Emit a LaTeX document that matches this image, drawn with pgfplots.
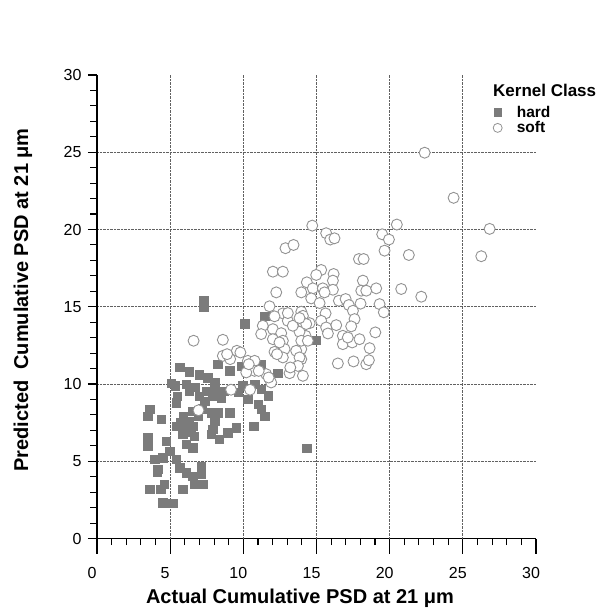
\documentclass[border=0pt]{standalone}
\usepackage{fontspec}
\setmainfont{Liberation Sans}
\usepackage{pgfplots}
\pgfplotsset{compat=1.18}
\definecolor{hardgray}{HTML}{7B7B7B}
\definecolor{softgray}{HTML}{929292}
\pgfplotsset{
  common/.style={
    at={(0pt,0pt)}, anchor=south west,
    scale only axis, width=439pt, height=463.5pt,
    xmin=0, xmax=30, ymin=0, ymax=30,
    clip=false,
    axis line style={-, line width=1.2pt, black},
    tick align=outside,
    tick style={black, line width=1.1pt},
    minor tick length=6.5pt,
    /pgf/number format/assume math mode=true,
    xticklabel style={font=\fontsize{16}{19}\selectfont, xshift=-5pt, yshift=-10pt},
    yticklabel style={font=\fontsize{16}{19}\selectfont, xshift=-3pt},
  }
}
\begin{document}
\begin{tikzpicture}
\path[use as bounding box] (-97pt,-71.5pt) rectangle (500pt,538.5pt);
% axis A: data, x axis, grids, legend
\begin{axis}[
  common,
  axis x line*=bottom, axis y line*=left,
  xtick={0,5,...,30}, ytick=\empty,
  minor x tick num=4,
  major tick length=15pt,
  extra x ticks={5,10,15,20,25}, extra x tick labels={},
  extra y ticks={5,10,15,20,25}, extra y tick labels={},
  extra tick style={grid=major, major tick length=0pt},
  major grid style={densely dotted, black!62, line width=0.9pt},
  xlabel={Actual Cumulative PSD at 21 μm},
  xlabel style={at={(axis description cs:0.4624,-0.1284)}, anchor=center, font=\bfseries\fontsize{20}{24}\selectfont},
  legend style={at={(rel axis cs:0.902,0.934)}, anchor=north west, draw=none, fill=none,
    font=\bfseries\fontsize{15.5}{15.5}\selectfont, inner sep=0pt, row sep=3pt,
    nodes={inner ysep=0pt, inner xsep=5pt}},
  legend cell align=left,
  legend image code/.code={\path (-4pt,0pt) (14pt,0pt); \draw[#1] plot coordinates {(0pt,0pt)};},
]
% hard kernels
\addplot[forget plot, only marks, mark=square*, mark size=4.2pt, mark options={fill=hardgray, draw=hardgray}] coordinates {
(5.64,11.07) (6.32,10.8) (7.0,10.6) (7.57,10.4) (8.03,10.1) (5.07,10.05) (6.1,10.0)
(6.32,9.55) (7.46,9.55) (7.9,9.23) (5.4,8.8) (7.35,8.9) (6.55,8.25) (7.8,8.15)
(3.59,8.37) (3.47,7.93) (4.39,7.72) (5.41,7.28) (6.1,7.39) (6.55,7.28) (5.86,6.74)
(6.66,6.63) (7.8,6.74) (6.1,6.1) (6.55,5.88) (3.47,6.53) (3.47,5.99) (4.73,6.3)
(4.96,5.66) (3.93,5.12) (4.5,5.23) (5.41,5.12) (4.16,4.47) (5.64,4.58) (6.1,4.26)
(6.55,4.04) (7.12,4.69) (7.12,4.15) (6.66,3.5) (7.23,3.5) (4.61,3.5) (3.59,3.18)
(5.86,3.18) (4.5,2.32) (5.18,2.27)
(8.26,11.28) (9.06,10.85) (9.85,11.17) (11.22,11.28) (12.36,10.7)
(8.03,9.55) (8.49,9.12) (8.71,9.55) (9.63,9.45) (9.97,9.88) (10.77,9.99) (11.22,9.66)
(11.68,9.23) (10.31,9.01) (11.0,8.69) (11.22,8.37) (11.45,7.93) (8.26,8.15) (9.06,8.15)
(8.03,7.61) (7.92,7.07) (8.94,6.85) (9.51,7.18) (10.72,7.28) (8.37,6.42)
(7.3,15.4) (7.3,15.0) (10.08,13.9) (11.45,14.4) (14.96,12.84) (14.32,5.84)
(5.35,9.9) (5.9,7.9) (6.3,7.6) (6.0,7.0) (6.4,6.9) (5.7,7.5) (6.9,7.9) (7.2,8.4)
(7.0,9.2) (6.7,9.8) (5.5,9.2) (4.36,3.2) (4.13,4.3)
};
% soft kernels
\addplot[forget plot, only marks, mark=*, mark size=5.5pt, mark options={fill=white, draw=softgray, line width=0.9pt}] coordinates {
(22.39,24.97) (24.37,22.05) (26.83,20.04) (26.26,18.27) (14.71,20.25) (20.49,20.32)
(15.66,19.76) (15.94,19.35) (16.23,19.43) (19.49,19.69) (19.95,19.35) (19.65,18.63)
(17.9,18.09) (18.22,18.09) (21.31,18.35) (15.32,17.38) (14.98,17.06) (16.17,17.12)
(14.34,16.58) (14.75,16.19) (15.43,16.19) (16.12,16.69) (16.12,16.1) (13.96,15.93)
(14.64,15.54) (15.55,15.93) (18.17,16.69) (18.06,16.04) (18.4,16.04) (19.08,16.19)
(20.79,16.15) (22.16,15.65) (15.21,15.24) (16.53,15.39) (16.99,15.5) (17.21,15.11)
(18.01,15.2) (19.31,15.17) (19.6,14.64) (13.96,14.68) (15.62,14.57) (17.49,14.74)
(14.53,13.94) (15.32,14.09) (16.35,13.81) (17.6,14.2) (15.66,13.66) (17.37,13.73)
(19.02,13.34) (14.25,13.12) (16.8,13.12) (16.8,12.58) (17.44,12.69) (17.94,12.9)
(18.63,12.32) (13.96,12.26) (13.96,11.61) (16.46,11.33) (17.53,11.46) (18.4,11.28)
(18.58,11.54) (14.07,10.53)
(12.88,18.79) (13.43,19.0) (12.02,17.27) (12.7,17.27) (12.25,15.93) (11.79,15.03)
(12.7,14.57) (12.13,14.38) (13.04,14.09) (14.07,14.41) (14.07,13.98) (12.02,13.55)
(12.59,13.29) (13.84,13.38) (15.78,13.27) (17.14,13.01) (12.02,12.9) (12.7,12.8)
(13.96,12.8) (12.13,12.08) (12.82,12.26) (13.61,12.15) (12.7,11.72) (13.84,11.72)
(13.73,11.17) (13.16,10.7) (11.9,10.1)
(11.33,13.77) (11.22,13.23) (12.47,12.69) (6.6,12.8) (8.6,12.86) (8.6,11.82)
(9.1,11.61) (9.56,12.15) (10.31,11.5) (10.77,11.5) (10.77,10.85) (10.2,10.75)
(11.56,10.64) (13.38,13.77) (14.3,13.88) (14.41,12.8) (13.84,14.27) (13.04,14.59)
(9.16,9.63) (10.46,9.63) (6.94,8.3)
(8.89,11.93) (9.8,12.04) (10.37,11.28) (11.05,10.85) (11.73,10.42) (12.3,11.93) (13.21,11.07)
};
\addlegendimage{only marks, mark=square*, mark size=3.6pt, mark options={fill=hardgray, draw=hardgray}}
\addlegendentry{hard}
\addlegendimage{only marks, mark=*, mark size=4.5pt, mark options={fill=white, draw=softgray, line width=0.8pt}}
\addlegendentry{soft}
\node[anchor=west, inner sep=0pt, font=\bfseries\fontsize{17}{17}\selectfont] at (rel axis cs:0.902,0.967) {Kernel Class};
\end{axis}
% axis B: y axis ticks and label
\begin{axis}[
  common,
  axis x line=none, axis y line*=left,
  ytick={0,5,...,30}, minor y tick num=4,
  major tick length=9pt,
  ylabel={Predicted~~Cumulative PSD at 21 μm},
  ylabel style={at={(axis description cs:-0.1686,0.5146)}, anchor=center, rotate=0, font=\bfseries\fontsize{20}{24}\selectfont},
]
\end{axis}
\end{tikzpicture}
\end{document}
